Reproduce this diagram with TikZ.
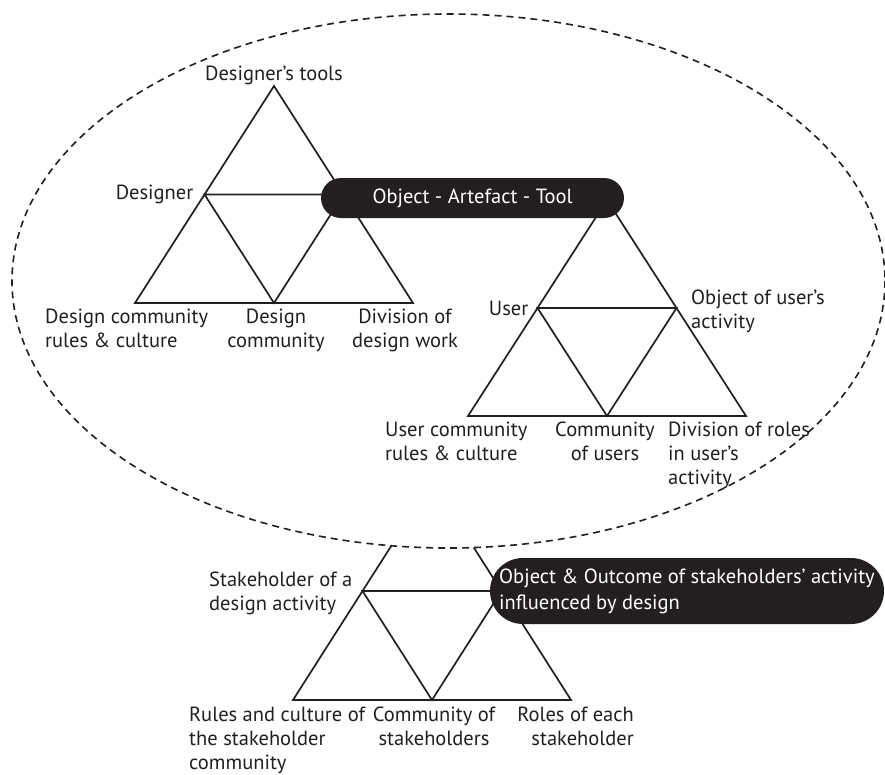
\documentclass[tikz,border=0pt]{standalone}
\usepackage{fontspec}
\setmainfont{PT Sans}
\usetikzlibrary{positioning}
\definecolor{ink}{HTML}{231F20}
\tikzset{
	tri/.style={draw=ink, line width=1.7pt},
	lbl/.style={inner sep=0pt, text=ink, font=\fontsize{20.5}{24}\selectfont},
	pill/.style={fill=ink, text=white, inner sep=0pt, font=\fontsize{20.5}{26}\selectfont},
}
\begin{document}
\begin{tikzpicture}[x=1pt,y=-1pt]
	\useasboundingbox (0,0) rectangle (885,774);
	% stakeholder triangle (partly behind the ellipse)
	\begin{scope}[shift={(432,482)}]
	\coordinate (s-top) at (0,0);
	\coordinate (s-bl) at (-139,218);
	\coordinate (s-bm) at (0,218);
	\coordinate (s-br) at (139,218);
	\coordinate (s-ml) at (-69.5,109);
	\coordinate (s-mr) at (69.5,109);
	\draw [tri] (s-top) -- (s-bl) -- (s-br) -- cycle (s-ml) -- (s-mr) -- (s-bm) -- cycle;
	\end{scope}
	\draw [fill=white, draw=ink, line width=1.6pt, dash pattern=on 7pt off 5pt] (448.5,281) ellipse [x radius=436.5, y radius=267];
	% designer triangle
	\begin{scope}[shift={(274,86)}]
	\coordinate (d-top) at (0,0);
	\coordinate (d-bl) at (-139,217);
	\coordinate (d-bm) at (0,217);
	\coordinate (d-br) at (139,217);
	\coordinate (d-ml) at (-69.5,108.5);
	\coordinate (d-mr) at (69.5,108.5);
	\draw [tri] (d-top) -- (d-bl) -- (d-br) -- cycle (d-ml) -- (d-mr) -- (d-bm) -- cycle;
	\end{scope}
	% user triangle
	\begin{scope}[shift={(607,200)}]
	\coordinate (u-top) at (0,0);
	\coordinate (u-bl) at (-139,216);
	\coordinate (u-bm) at (0,216);
	\coordinate (u-br) at (139,216);
	\coordinate (u-ml) at (-69.5,108);
	\coordinate (u-mr) at (69.5,108);
	\draw [tri] (u-top) -- (u-bl) -- (u-br) -- cycle (u-ml) -- (u-mr) -- (u-bm) -- cycle;
	\end{scope}
	\node [pill, minimum width=303pt, minimum height=40pt, rounded corners=20pt] (artefact) at (472.5,198) {Object - Artefact - Tool};
	\node [pill, minimum width=394pt, minimum height=66pt, rounded corners=33pt, align=left] (outcome) at (687,591) {Object \& Outcome of stakeholders’ activity\\influenced by design};
	% designer labels
	\node [lbl, above=1pt of d-top] (tools) {Designer’s tools};
	\node [lbl, left=11pt of d-ml] (designer) {Designer};
	\node [lbl, anchor=north west, align=left] (drules) at (45,308.5) {Design community\\rules \& culture};
	\node [lbl, anchor=north, align=center] (dcomm) at (276,308.5) {Design\\community};
	\node [lbl, anchor=north, align=center] (ddiv) at (405,308.5) {Division of\\design work};
	% user labels
	\node [lbl, left=9pt of u-ml] (user) {User};
	\node [lbl, anchor=north west, align=left] (uobj) at (691,289.5) {Object of user’s\\activity};
	\node [lbl, anchor=north west, align=left] (urules) at (385,421.5) {User community\\rules \& culture};
	\node [lbl, anchor=north, align=center] (ucomm) at (605,421.5) {Community\\of users};
	\node [lbl, anchor=north west, align=left] (udiv) at (668,421.5) {Division of roles\\in user’s\\activity};
	% stakeholder labels
	\node [lbl, anchor=north west, align=left] (holder) at (209,571.5) {Stakeholder of a\\design activity};
	\node [lbl, anchor=north west, align=left] (srules) at (189,706.5) {Rules and culture of\\the stakeholder\\community};
	\node [lbl, anchor=north, align=center] (scomm) at (434,706.5) {Community of\\stakeholders};
	\node [lbl, anchor=north east, align=right] (sroles) at (634,706.5) {Roles of each\\stakeholder};
\end{tikzpicture}
\end{document}
